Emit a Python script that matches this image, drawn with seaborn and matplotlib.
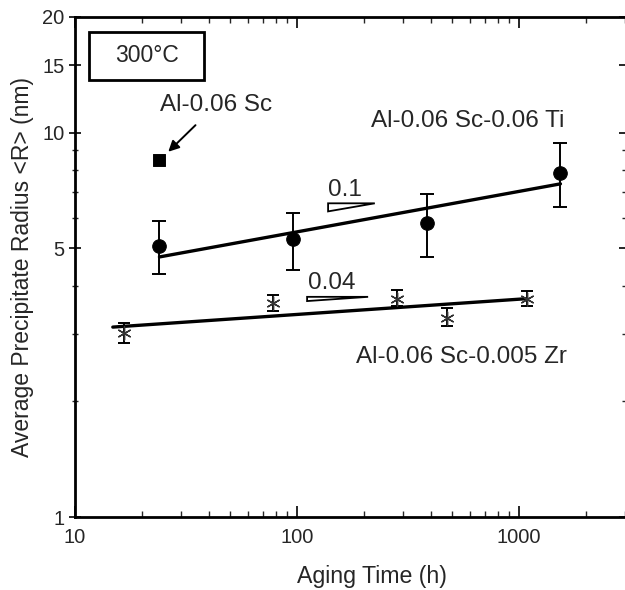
import numpy as np
import matplotlib
matplotlib.use("Agg")
import matplotlib.pyplot as plt
import matplotlib.ticker as mticker
from matplotlib.patches import Rectangle
import seaborn as sns

# Al-0.06 Sc-0.06 Ti (filled circles)
ti_time = [24, 96, 384, 1536]
ti_radius = [5.08, 5.3, 5.83, 7.87]
ti_low = [4.3, 4.4, 4.75, 6.42]
ti_high = [5.9, 6.19, 6.93, 9.42]
ti_fit_time = [24, 1536]
ti_fit_radius = [4.75, 7.36]

# Al-0.06 Sc-0.005 Zr (asterisks)
zr_time = [16.6, 78, 282, 474, 1087]
zr_radius = [3.01, 3.61, 3.7, 3.3, 3.7]
zr_low = [2.84, 3.44, 3.55, 3.14, 3.54]
zr_high = [3.2, 3.79, 3.9, 3.5, 3.88]
zr_fit_time = [14.8, 1087]
zr_fit_radius = [3.12, 3.7]

# Al-0.06 Sc (square)
sc_time = [24]
sc_radius = [8.5]

# slope triangles: (x start, x end, y at top, slope)
tri_ti = (138, 224, 6.55, 0.1)
tri_zr = (111, 209, 3.74, 0.04)

sns.set_style("ticks")
plt.rcParams['font.family'] = ['Liberation Sans', 'DejaVu Sans']

fig = plt.figure(figsize=(6.25, 5.9), dpi=100)
ax = fig.add_axes([0.12, 0.1237, 0.88, 0.8475])

blk = 'black'
sns.lineplot(x=ti_fit_time, y=ti_fit_radius, ax=ax, color=blk, lw=2.4)
sns.lineplot(x=zr_fit_time, y=zr_fit_radius, ax=ax, color=blk, lw=2.4)

ax.errorbar(ti_time, ti_radius,
            yerr=[np.array(ti_radius) - np.array(ti_low), np.array(ti_high) - np.array(ti_radius)],
            fmt='none', ecolor=blk, elinewidth=1.4, capsize=5, capthick=1.4)
ax.errorbar(zr_time, zr_radius,
            yerr=[np.array(zr_radius) - np.array(zr_low), np.array(zr_high) - np.array(zr_radius)],
            fmt='none', ecolor=blk, elinewidth=1.4, capsize=4, capthick=1.4)

sns.scatterplot(x=ti_time, y=ti_radius, ax=ax, color=blk, s=95, marker='o', edgecolor=blk, zorder=5)
sns.scatterplot(x=sc_time, y=sc_radius, ax=ax, color=blk, s=70, marker='s', edgecolor=blk, zorder=5)
sns.scatterplot(x=zr_time, y=zr_radius, ax=ax, color='#333333', s=90, marker=(6, 2, 0),
                linewidth=1.0, zorder=5)

for x0, x1, ytop, slope in (tri_ti, tri_zr):
    ylow = ytop / (x1 / x0) ** slope
    ax.fill([x0, x1, x0, x0], [ylow, ytop, ytop, ylow], facecolor='white',
            edgecolor=blk, lw=1.3, zorder=4)

ax.set_xscale('log')
ax.set_yscale('log')
ax.set_xlim(10, 3000)
ax.set_ylim(1, 20)

ax.xaxis.set_major_locator(mticker.FixedLocator([10, 100, 1000]))
ax.xaxis.set_major_formatter(mticker.FixedFormatter(['10', '100', '1000']))
ax.xaxis.set_minor_locator(mticker.LogLocator(base=10, subs=np.arange(2, 10)))
ax.xaxis.set_minor_formatter(mticker.NullFormatter())
ax.yaxis.set_major_locator(mticker.FixedLocator([1, 5, 10, 15, 20]))
ax.yaxis.set_major_formatter(mticker.FixedFormatter(['1', '5', '10', '15', '20']))
ax.yaxis.set_minor_locator(mticker.LogLocator(base=10, subs=np.arange(2, 10)))
ax.yaxis.set_minor_formatter(mticker.NullFormatter())

ax.tick_params(axis='x', which='both', direction='in', top=True, bottom=True, labelsize=14.5, pad=8)
ax.tick_params(axis='y', which='both', direction='inout', left=True, labelsize=14.5)
ax.tick_params(which='major', length=8, width=1.4)
ax.tick_params(which='minor', length=4, width=1.0)
ax.tick_params(axis='y', which='both', right=True)

for side in ['left', 'bottom', 'top']:
    ax.spines[side].set_linewidth(2.0)
    ax.spines[side].set_color(blk)
ax.spines['right'].set_linewidth(0.6)
ax.spines['right'].set_color('#cccccc')

ax.set_xlabel('Aging Time (h)', fontsize=16.7)
ax.xaxis.set_label_coords(0.54, -0.095)
ax.set_ylabel('Average Precipitate Radius <R> (nm)', fontsize=16.5)
ax.yaxis.set_label_coords(-0.075, 0.5)

ax.add_patch(Rectangle((0.0255, 0.874), 0.209, 0.096, transform=ax.transAxes,
                       fill=False, edgecolor=blk, lw=2.0))
ax.text(0.131, 0.922, '300°C', transform=ax.transAxes, ha='center', va='center', fontsize=16.5)

ax.annotate('Al-0.06 Sc', xy=(26.3, 8.92), xytext=(43.2, 11.8), ha='center', va='center',
            fontsize=17.5, arrowprops=dict(arrowstyle='-|>', color=blk, lw=1.4,
                                           shrinkA=6, shrinkB=0, mutation_scale=16))
ax.text(589, 10.75, 'Al-0.06 Sc-0.06 Ti', ha='center', va='center', fontsize=17.5)
ax.text(548, 2.61, 'Al-0.06 Sc-0.005 Zr', ha='center', va='center', fontsize=17.5)
ax.text(164, 7.1, '0.1', ha='center', va='center', fontsize=17.5)
ax.text(144, 4.07, '0.04', ha='center', va='center', fontsize=17.5)

fig.savefig('out.png', dpi=100)
